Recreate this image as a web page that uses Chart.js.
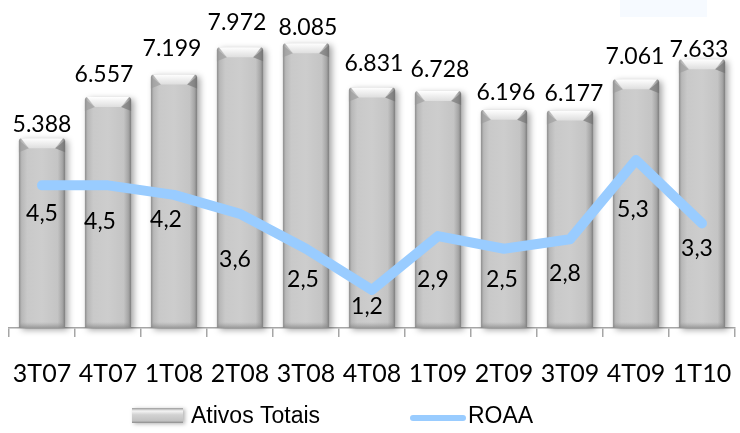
<!DOCTYPE html>
<html>
<head>
<meta charset="utf-8">
<script src="https://cdn.jsdelivr.net/npm/chart.js@4.4.1/dist/chart.umd.min.js"></script>
<style>
  html, body { margin: 0; padding: 0; background: #fff; }
  #wrap { width: 740px; height: 433px; position: relative; }
</style>
</head>
<body>
<div id="wrap"><canvas id="chart"></canvas></div>
<script>
var quarters = ["3T07", "4T07", "1T08", "2T08", "3T08", "4T08", "1T09", "2T09", "3T09", "4T09", "1T10"];
var ativosTotais = [5388, 6557, 7199, 7972, 8085, 6831, 6728, 6196, 6177, 7061, 7633];
var roaa = [4.5, 4.5, 4.2, 3.6, 2.5, 1.2, 2.9, 2.5, 2.8, 5.3, 3.3];

// label nudges (px) so the numbers sit where they were placed by hand
var barLabelLift = [14, 22, 26, 25, 16, 24, 21, 17, 17, 23, 10];
var barLabelShift = [0, -4, -2, -3, 2, 2, 2, 2, 4, -1, -3];
var lineLabelDrop = [28, 36, 25, 46, 31, 17, 44, 31, 34, 50, 25];
var lineLabelShift = [0, -8, -8, -5, -3, -5, -5, -2, -5, -3, -5];

var numFont = "Lato, 'Open Sans', sans-serif";

function fmtThousands(v) {
  return (v / 1000).toFixed(3);
}
function fmtComma(v) {
  return v.toFixed(1).replace(".", ",");
}

function drawBevelBar(ctx, x, top, base, w) {
  var l = x - w / 2, r = x + w / 2, b = 10;
  ctx.save();
  // body with soft shadow to the right
  var g = ctx.createLinearGradient(l, 0, r, 0);
  g.addColorStop(0, "#8e8e8e");
  g.addColorStop(0.06, "#b8b8b8");
  g.addColorStop(0.18, "#c9c9c9");
  g.addColorStop(0.5, "#cdcdcd");
  g.addColorStop(0.84, "#c4c4c4");
  g.addColorStop(0.94, "#a6a6a6");
  g.addColorStop(1, "#7e7e7e");
  ctx.shadowColor = "rgba(0,0,0,0.35)";
  ctx.shadowBlur = 6;
  ctx.shadowOffsetX = 3;
  ctx.shadowOffsetY = 2;
  ctx.beginPath();
  ctx.moveTo(l, base);
  ctx.lineTo(l, top + 3);
  ctx.quadraticCurveTo(l, top, l + 3, top);
  ctx.lineTo(r - 3, top);
  ctx.quadraticCurveTo(r, top, r, top + 3);
  ctx.lineTo(r, base);
  ctx.closePath();
  ctx.fillStyle = g;
  ctx.fill();
  ctx.restore();

  ctx.save();
  // top bevel face
  var tg = ctx.createLinearGradient(0, top, 0, top + b);
  tg.addColorStop(0, "#ffffff");
  tg.addColorStop(1, "#dedede");
  ctx.beginPath();
  ctx.moveTo(l + 2, top);
  ctx.lineTo(r - 2, top);
  ctx.lineTo(r - b, top + b);
  ctx.lineTo(l + b, top + b);
  ctx.closePath();
  ctx.fillStyle = tg;
  ctx.fill();
  // bevel corners
  ctx.beginPath();
  ctx.moveTo(l, top + 2);
  ctx.lineTo(l + b, top + b);
  ctx.lineTo(l, top + b + 4);
  ctx.closePath();
  ctx.fillStyle = "rgba(150,150,150,0.55)";
  ctx.fill();
  ctx.beginPath();
  ctx.moveTo(r, top + 2);
  ctx.lineTo(r - b, top + b);
  ctx.lineTo(r, top + b + 4);
  ctx.closePath();
  ctx.fillStyle = "rgba(110,110,110,0.6)";
  ctx.fill();
  // bottom bevel
  var bg = ctx.createLinearGradient(0, base - 6, 0, base);
  bg.addColorStop(0, "rgba(150,150,150,0)");
  bg.addColorStop(1, "rgba(130,130,130,0.7)");
  ctx.beginPath();
  ctx.moveTo(l + 2, base - 6);
  ctx.lineTo(r - 2, base - 6);
  ctx.lineTo(r, base);
  ctx.lineTo(l, base);
  ctx.closePath();
  ctx.fillStyle = bg;
  ctx.fill();
  ctx.restore();
}

var bevelBars = {
  id: "bevelBars",
  beforeDraw: function (chart) {
    var ctx = chart.ctx;
    ctx.save();
    ctx.fillStyle = "#f6faff";
    ctx.fillRect(620, 0, 87, 17);
    ctx.restore();
  },
  beforeDatasetDraw: function (chart, args) {
    if (args.index !== 0) return;
    var ctx = chart.ctx;
    args.meta.data.forEach(function (bar) {
      var p = bar.getProps(["x", "y", "base", "width"], true);
      drawBevelBar(ctx, p.x, p.y, p.base, p.width);
    });
    return false;
  },
  afterDatasetsDraw: function (chart) {
    var ctx = chart.ctx;
    ctx.save();
    ctx.fillStyle = "#000";
    ctx.textAlign = "center";
    ctx.textBaseline = "middle";
    ctx.font = "23px " + numFont;
    chart.getDatasetMeta(0).data.forEach(function (bar, i) {
      ctx.fillText(fmtThousands(ativosTotais[i]), bar.x + barLabelShift[i], bar.y - barLabelLift[i]);
    });
    chart.getDatasetMeta(1).data.forEach(function (pt, i) {
      ctx.fillText(fmtComma(roaa[i]), pt.x + lineLabelShift[i], pt.y + lineLabelDrop[i]);
    });
    ctx.restore();
  },
  afterDraw: function (chart) {
    var ctx = chart.ctx;
    ctx.save();
    // legend: bevelled bar swatch
    var sg = ctx.createLinearGradient(0, 408, 0, 423);
    sg.addColorStop(0, "#9a9a9a");
    sg.addColorStop(0.2, "#f4f4f4");
    sg.addColorStop(0.45, "#d2d2d2");
    sg.addColorStop(0.85, "#c2c2c2");
    sg.addColorStop(1, "#8c8c8c");
    ctx.shadowColor = "rgba(0,0,0,0.3)";
    ctx.shadowBlur = 4;
    ctx.shadowOffsetX = 2;
    ctx.shadowOffsetY = 1;
    ctx.fillStyle = sg;
    ctx.fillRect(132, 408, 51, 15);
    ctx.restore();

    ctx.save();
    ctx.strokeStyle = "#99ccff";
    ctx.lineWidth = 6;
    ctx.lineCap = "round";
    ctx.beginPath();
    ctx.moveTo(413, 418);
    ctx.lineTo(463, 418);
    ctx.stroke();

    ctx.fillStyle = "#000";
    ctx.font = "23px 'Liberation Sans', Arial, sans-serif";
    ctx.textBaseline = "middle";
    ctx.textAlign = "left";
    ctx.fillText("Ativos Totais", 191, 417);
    ctx.fillText("ROAA", 468, 417);
    ctx.restore();
  }
};

new Chart(document.getElementById("chart"), {
  data: {
    labels: quarters,
    datasets: [
      {
        type: "bar",
        label: "Ativos Totais",
        data: ativosTotais,
        yAxisID: "y",
        backgroundColor: "#c8c8c8",
        categoryPercentage: 1,
        barPercentage: 0.7,
        order: 1
      },
      {
        type: "line",
        label: "ROAA",
        data: roaa,
        yAxisID: "y1",
        borderColor: "#99ccff",
        borderWidth: 10,
        borderCapStyle: "round",
        borderJoinStyle: "round",
        pointRadius: 0,
        tension: 0,
        order: 0
      }
    ]
  },
  options: {
    responsive: true,
    maintainAspectRatio: false,
    animation: false,
    layout: { padding: { top: 11, left: 9, right: 5, bottom: 0 } },
    scales: {
      x: {
        offset: true,
        afterFit: function (scale) {
          // full-width axis, and room below it for the tick labels and legend
          scale.paddingLeft = 0;
          scale.paddingRight = 0;
          scale.height = 105;
        },
        grid: {
          offset: true,
          drawOnChartArea: false,
          drawTicks: true,
          tickLength: 9,
          color: "#a6a6a6",
          lineWidth: 1.5
        },
        border: { display: true, color: "#a6a6a6", width: 1.5 },
        ticks: {
          color: "#000",
          padding: 22,
          maxRotation: 0,
          autoSkip: false,
          font: { family: numFont, size: 25 }
        }
      },
      y: { display: false, min: 0, max: 9000 },
      y1: { display: false, min: 0, max: 10, position: "right" }
    },
    plugins: {
      legend: { display: false },
      tooltip: { enabled: false }
    }
  },
  plugins: [bevelBars]
});
</script>
</body>
</html>
